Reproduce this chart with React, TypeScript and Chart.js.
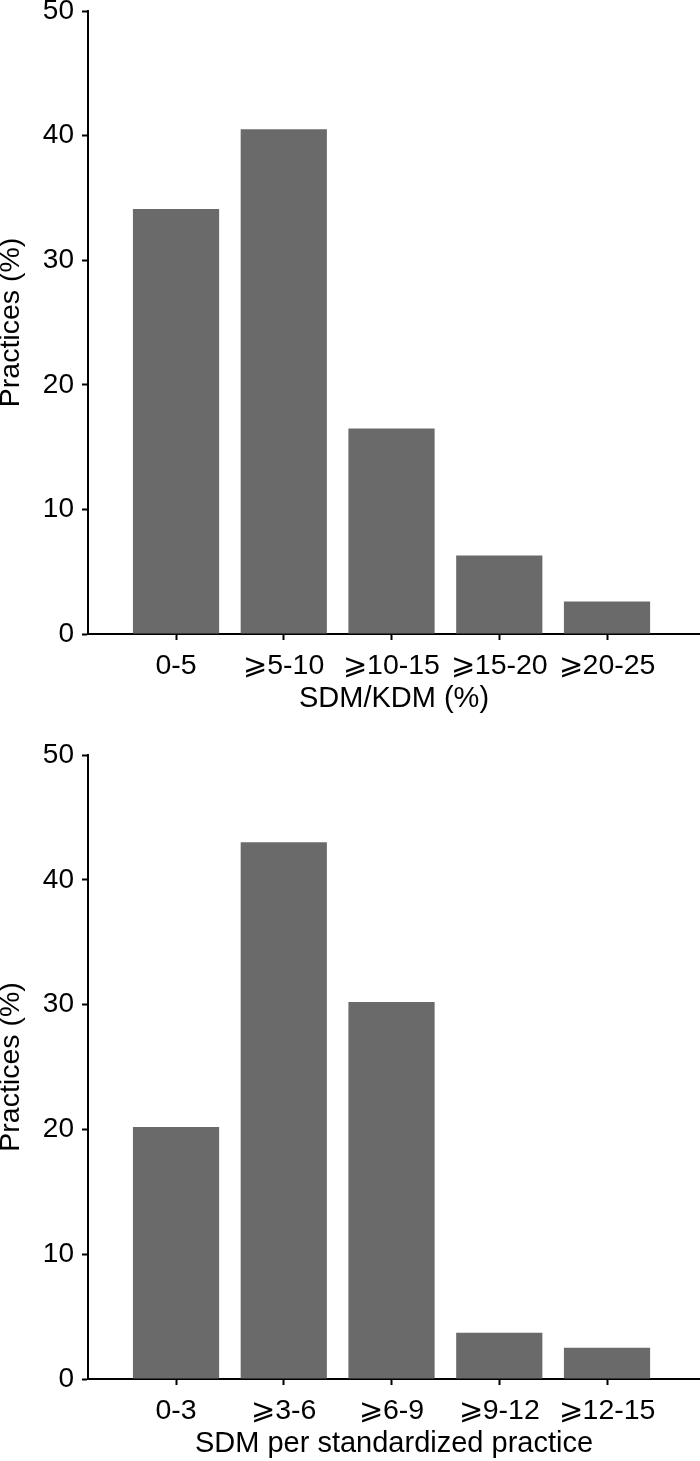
import React, { useEffect, useRef } from 'react';
import { Chart, registerables } from 'chart.js';

Chart.register(...registerables);

const FONT = '"Liberation Sans", Arial, Helvetica, sans-serif';

const yTickValues = [0, 10, 20, 30, 40, 50];
const yTitle = 'Practices (%)';

const categoriesTop = ['0-5', '⩾5-10', '⩾10-15', '⩾15-20', '⩾20-25'];
const valuesTop = [34.1, 40.5, 16.5, 6.3, 2.6];
const xTitleTop = 'SDM/KDM (%)';

const categoriesBottom = ['0-3', '⩾3-6', '⩾6-9', '⩾9-12', '⩾12-15'];
const valuesBottom = [20.2, 43.0, 30.2, 3.7, 2.5];
const xTitleBottom = 'SDM per standardized practice';

type PanelProps = {
  categories: string[];
  values: number[];
  xTitle: string;
  height: number;
  padTop: number;
  xAxisHeight: number;
  titlePad: number;
};

function BarPanel(props: PanelProps) {
  const ref = useRef<HTMLCanvasElement>(null);
  useEffect(() => {
    const { categories, values, xTitle, padTop, xAxisHeight, titlePad } = props;
    const chart = new Chart(ref.current as HTMLCanvasElement, {
      type: 'bar',
      data: {
        datasets: [
          {
            data: values.map((v, i) => ({ x: i, y: v })),
            backgroundColor: '#6a6a6a',
            borderWidth: 0,
            barPercentage: 0.8,
            categoryPercentage: 1,
          } as any,
        ],
      },
      options: {
        animation: false,
        responsive: false,
        maintainAspectRatio: false,
        layout: { padding: { top: padTop, left: 0, right: 0, bottom: 0 } },
        plugins: { legend: { display: false }, tooltip: { enabled: false } },
        scales: {
          x: {
            type: 'linear',
            offset: false,
            min: -0.817,
            max: 4.863,
            afterBuildTicks: (s: any) => {
              s.ticks = categories.map((_, i) => ({ value: i }));
            },
            afterFit: (s: any) => {
              s.height = xAxisHeight;
              s.paddingLeft = 0;
              s.paddingRight = 0;
            },
            ticks: {
              callback: (v: any) => categories[v as number] ?? '',
              font: { family: FONT, size: 28.5 },
              color: '#000',
              padding: 9,
              maxRotation: 0,
              autoSkip: false,
            },
            grid: {
              offset: false,
              drawOnChartArea: false,
              drawTicks: true,
              tickLength: 6,
              tickWidth: 2,
              tickColor: '#000',
            },
            border: { display: true, color: '#000', width: 2 },
            title: {
              display: true,
              text: xTitle,
              color: '#000',
              font: { family: FONT, size: 29, lineHeight: 1 },
              padding: { top: 0, bottom: titlePad },
            },
          } as any,
          y: {
            type: 'linear',
            min: 0,
            max: 50,
            afterBuildTicks: (s: any) => {
              s.ticks = yTickValues.map((v) => ({ value: v }));
            },
            afterFit: (s: any) => {
              s.width = 88;
              s.paddingTop = 0;
              s.paddingBottom = 0;
            },
            ticks: {
              font: { family: FONT, size: 28 },
              color: '#000',
              padding: 8,
            },
            grid: {
              drawOnChartArea: false,
              drawTicks: true,
              tickLength: 6,
              tickWidth: 2,
              tickColor: '#000',
            },
            border: { display: true, color: '#000', width: 2 },
            title: {
              display: true,
              text: yTitle,
              color: '#000',
              font: { family: FONT, size: 28.5, lineHeight: 0.8 },
              padding: 0,
            },
          } as any,
        },
      },
    });
    return () => chart.destroy();
  }, []);
  return (
    <canvas
      ref={ref}
      width={700}
      height={props.height}
      style={{ display: 'block', width: 700, height: props.height }}
    />
  );
}

export default function App() {
  return (
    <div style={{ position: 'absolute', left: 0, top: 0, width: 700, height: 1461, background: '#fff' }}>
      <BarPanel
        categories={categoriesTop}
        values={valuesTop}
        xTitle={xTitleTop}
        height={730}
        padTop={11}
        xAxisHeight={96}
        titlePad={17}
      />
      <BarPanel
        categories={categoriesBottom}
        values={valuesBottom}
        xTitle={xTitleBottom}
        height={731}
        padTop={25}
        xAxisHeight={82}
        titlePad={3}
      />
    </div>
  );
}
